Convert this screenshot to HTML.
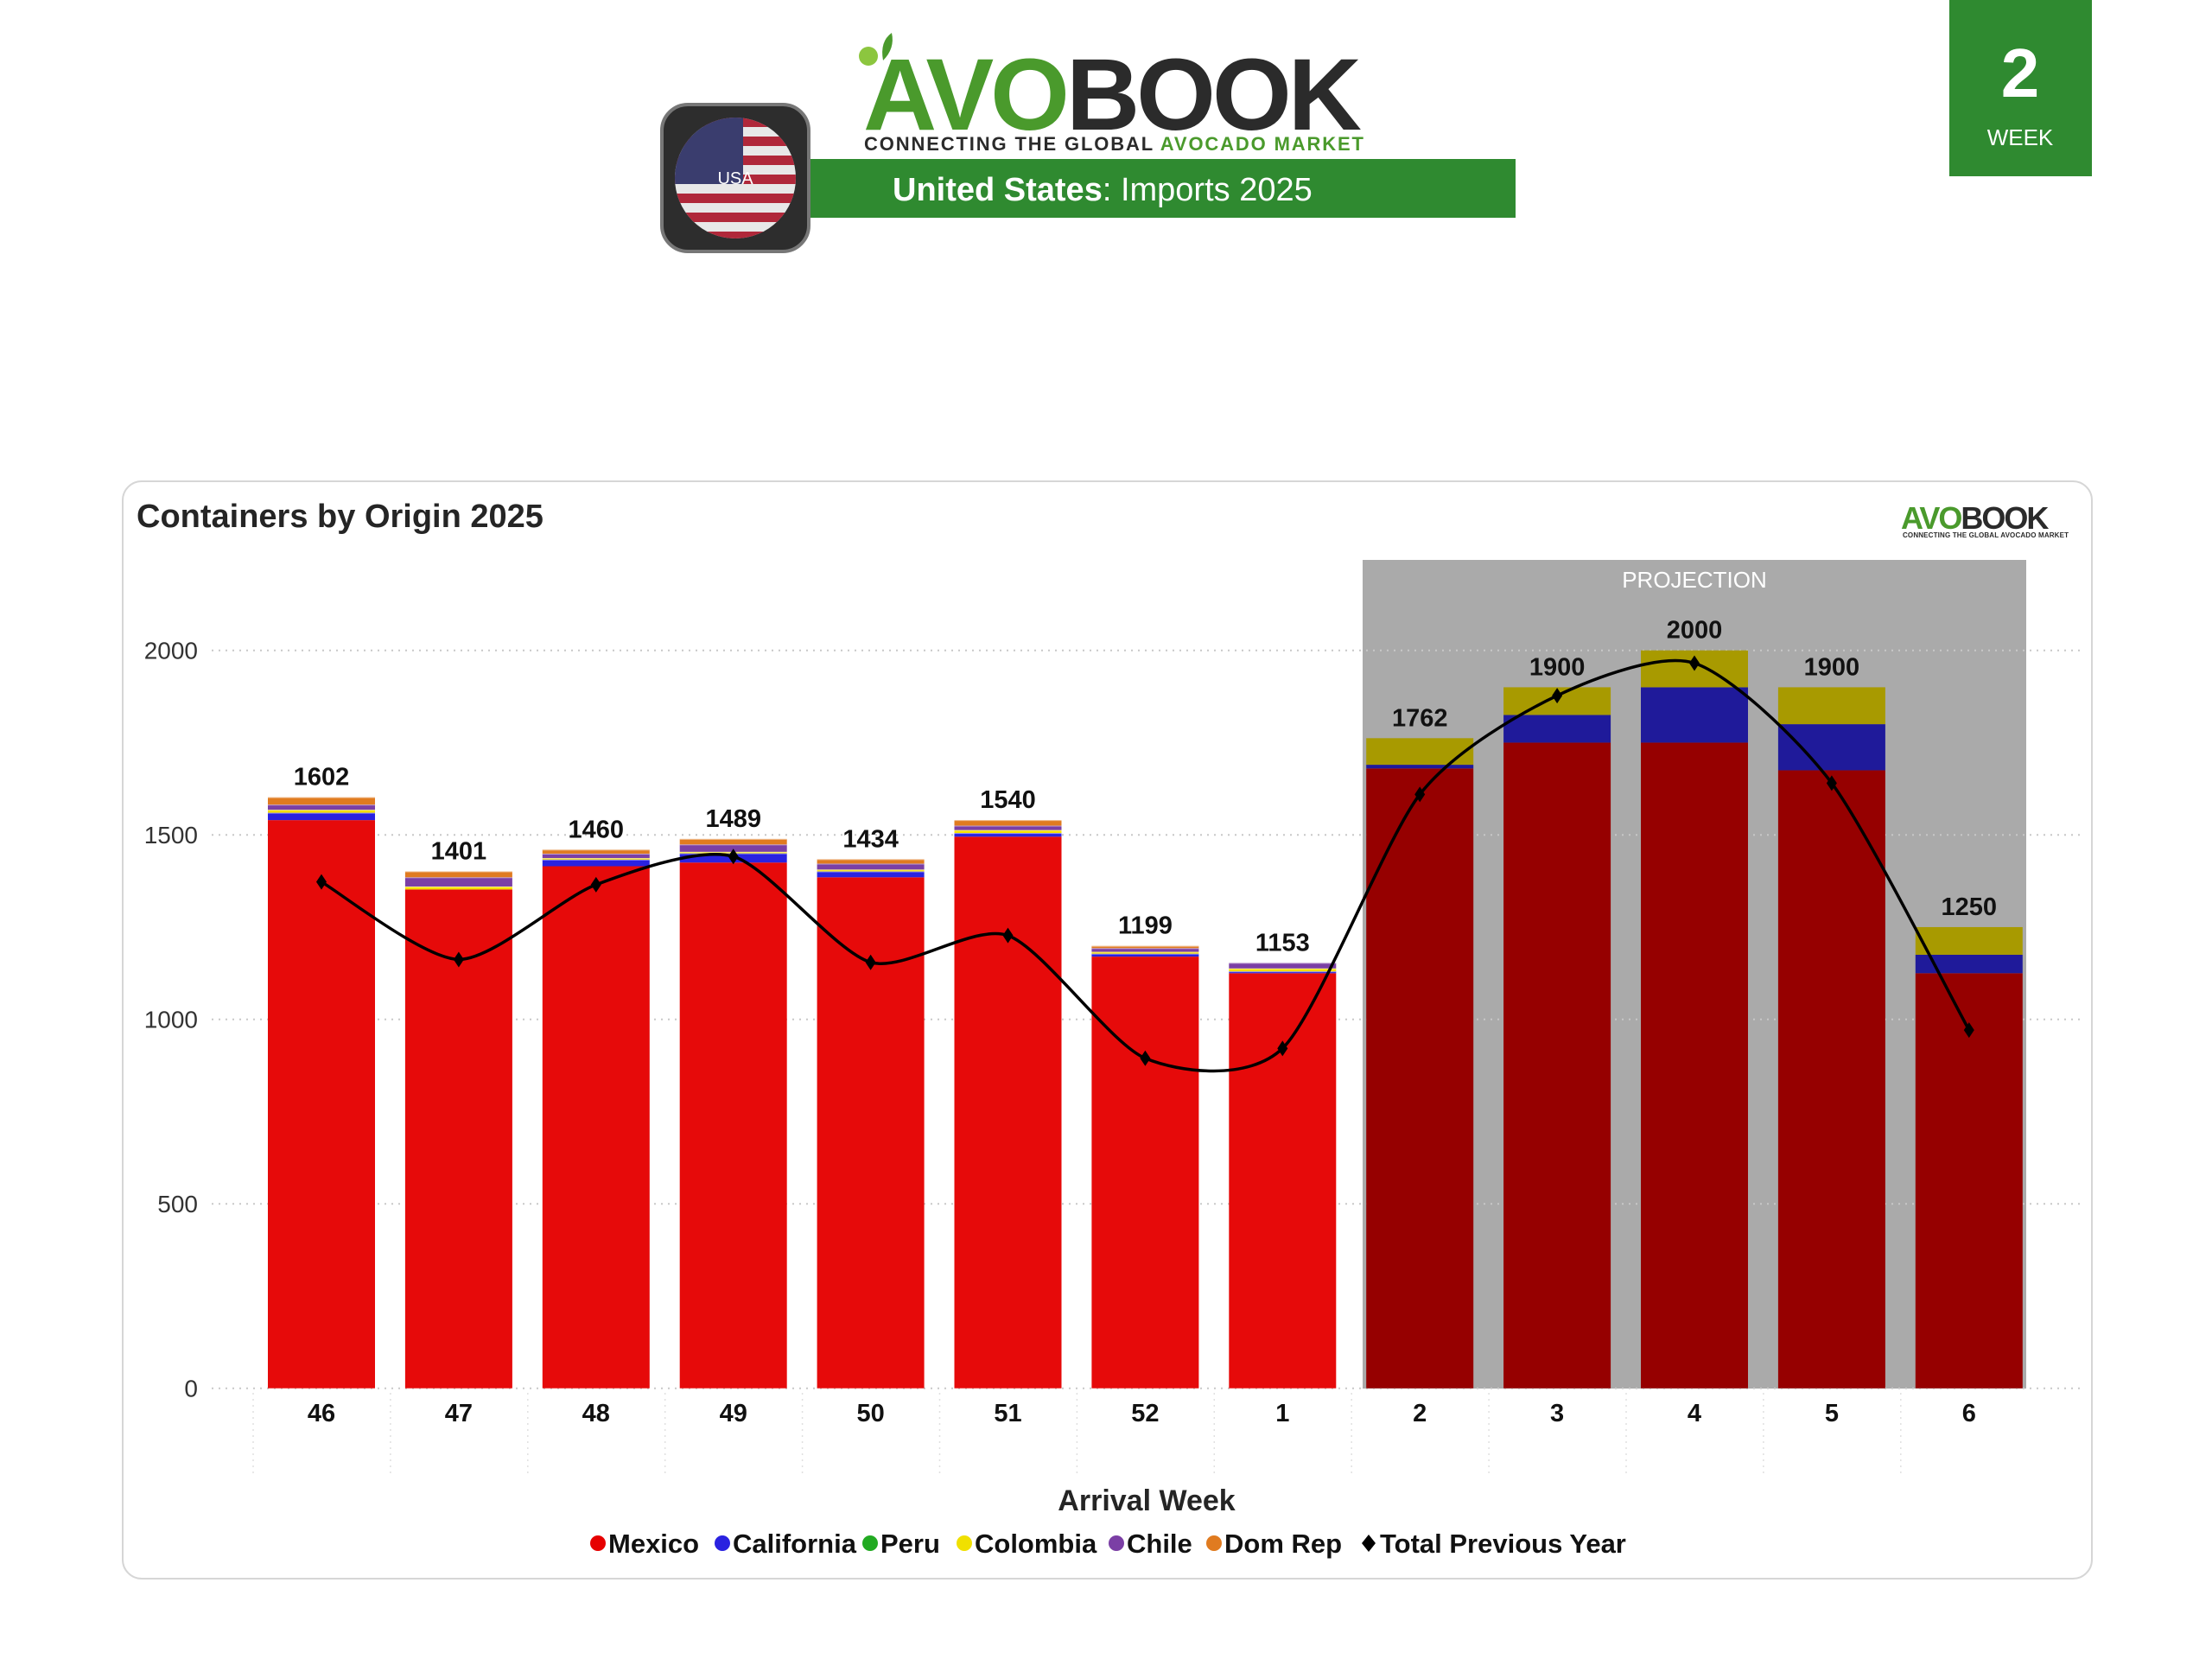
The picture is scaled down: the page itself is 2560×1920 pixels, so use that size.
<!DOCTYPE html>
<html><head><meta charset="utf-8">
<style>
html,body{margin:0;padding:0;background:#fff;}
body{width:2560px;height:1920px;position:relative;overflow:hidden;font-family:"Liberation Sans",sans-serif;}
</style></head>
<body>
<svg id="s" width="2560" height="1920" viewBox="0 0 2560 1920" xmlns="http://www.w3.org/2000/svg" style="position:absolute;left:0;top:0">
<rect x="931" y="184" width="823" height="68" fill="#2f8a30"/>
<text x="1033" y="232" font-size="38" fill="#fff" font-family="Liberation Sans, sans-serif"><tspan font-weight="bold">United States</tspan>: Imports 2025</text>
<rect x="766" y="121" width="170" height="170" rx="30" fill="#2d2d2d" stroke="#777" stroke-width="4"/>
<clipPath id="fc"><circle cx="851" cy="206" r="70"/></clipPath>
<g clip-path="url(#fc)">
<rect x="780" y="136" width="142" height="142" fill="#e8e8e8"/>
<g fill="#b0283a">
<rect x="780" y="136" width="142" height="11"/><rect x="780" y="158" width="142" height="11"/><rect x="780" y="180" width="142" height="11"/><rect x="780" y="202" width="142" height="11"/><rect x="780" y="224" width="142" height="11"/><rect x="780" y="246" width="142" height="11"/><rect x="780" y="268" width="142" height="11"/></g>
<rect x="780" y="136" width="80" height="77" fill="#3a3d6e"/>
</g>
<text x="851" y="213" font-size="20" fill="#fff" text-anchor="middle">USA</text>
<text x="999" y="150" font-size="118" font-weight="bold" fill="#4a9a2c" letter-spacing="-4">AVO<tspan fill="#2b2b2b">BOOK</tspan></text>
<circle cx="1005" cy="65" r="11" fill="#8cc63f"/><path d="M1022 70 Q1018 48 1032 38 Q1036 56 1022 70Z" fill="#4a9a2c"/>
<text x="1000" y="174" font-size="22" font-weight="bold" fill="#2b2b2b" textLength="578">CONNECTING THE GLOBAL <tspan fill="#4a9a2c">AVOCADO MARKET</tspan></text>
<rect x="2256" y="0" width="165" height="204" fill="#2f8a30"/>
<text x="2338" y="112" font-size="80" font-weight="bold" fill="#fff" text-anchor="middle">2</text>
<text x="2338" y="168" font-size="26" fill="#fff" text-anchor="middle">WEEK</text>
<rect x="142" y="557" width="2279" height="1270" rx="22" fill="#fff" stroke="#d6d6d6" stroke-width="2"/>
<text x="158" y="610" font-size="38" font-weight="bold" fill="#252525">Containers by Origin 2025</text>
<text x="2200" y="612" font-size="36" font-weight="bold" fill="#4a9a2c" letter-spacing="-2">AVO<tspan fill="#2b2b2b">BOOK</tspan></text>
<text x="2202" y="622" font-size="8" font-weight="bold" fill="#2b2b2b" textLength="192">CONNECTING THE GLOBAL AVOCADO MARKET</text>
<rect x="1577" y="648" width="768" height="959" fill="#aaaaaa"/>
<text x="1961" y="680" font-size="26" fill="#fff" text-anchor="middle">PROJECTION</text>
<g id="chart"></g>
<text x="1327" y="1748" font-size="34" font-weight="bold" fill="#252525" text-anchor="middle">Arrival Week</text>
<g font-size="31" font-weight="bold" fill="#111">
<circle cx="692" cy="1786" r="9" fill="#e60000"/><text x="704" y="1797">Mexico</text>
<circle cx="836" cy="1786" r="9" fill="#2a22e0"/><text x="848" y="1797">California</text>
<circle cx="1007" cy="1786" r="9" fill="#22aa22"/><text x="1019" y="1797">Peru</text>
<circle cx="1116" cy="1786" r="9" fill="#f0e000"/><text x="1128" y="1797">Colombia</text>
<circle cx="1292" cy="1786" r="9" fill="#7b3fa5"/><text x="1304" y="1797">Chile</text>
<circle cx="1405" cy="1786" r="9" fill="#e07b20"/><text x="1417" y="1797">Dom Rep</text>
<path d="M1584 1776 L1592 1786 L1584 1796 L1576 1786Z" fill="#000"/><text x="1597" y="1797">Total Previous Year</text>
</g>
</svg>
<script>
(function(){
var g=document.getElementById('chart'),h='';
function Y(v){return 1606.7-v*0.427;}
[0,500,1000,1500,2000].forEach(function(v){
 h+='<line x1="245" x2="2408" y1="'+Y(v)+'" y2="'+Y(v)+'" stroke="#c8c8c8" stroke-width="2" stroke-dasharray="2 6"/>';
 h+='<text x="229" y="'+(Y(v)+10)+'" font-size="28" fill="#333" text-anchor="end">'+v+'</text>';
});
var labels=['46','47','48','49','50','51','52','1','2','3','4','5','6'];
var tot=[1602,1401,1460,1489,1434,1540,1199,1153,1762,1900,2000,1900,1250];
var seg=[[1540,20,8,14,20],[1352,0,8,25,16],[1415,18,4,12,11],[1425,25,4,20,15],[1385,16,5,16,12],[1495,10,8,12,15],[1170,8,5,10,6],[1125,5,8,15,0],
[1680,10,72],[1750,75,75],[1750,150,100],[1675,125,100],[1125,50,75]];
var c1=['#e60a0a','#2a22e0','#f5e000','#7b3fa5','#e07b20'],c2=['#960000','#1f1a9a','#a89a00'];
var prev=[625,680,627,607,682,663,750,743,563,493,470,555,730];
var pts=[];
for(var i=0;i<13;i++){
 var cx=372+i*158.9,x=cx-62,acc=0,cols=i<8?c1:c2;
 seg[i].forEach(function(v,k){ if(!v)return; var y1=Y(acc+v),y0=Y(acc);
  h+='<rect x="'+x+'" y="'+y1+'" width="124" height="'+(y0-y1)+'" fill="'+cols[k]+'"/>';
  if(i<8&&k>0) h+='<rect x="'+x+'" y="'+(y1)+'" width="124" height="1" fill="#fff" opacity="0.5"/>';
  acc+=v;});
 h+='<text x="'+cx+'" y="'+(Y(tot[i])-14)+'" font-size="29" font-weight="bold" fill="#111" text-anchor="middle">'+tot[i]+'</text>';
 h+='<text x="'+cx+'" y="1645" font-size="29" font-weight="bold" fill="#111" text-anchor="middle">'+labels[i]+'</text>';
 h+='<line x1="'+(cx-79)+'" x2="'+(cx-79)+'" y1="1612" y2="1705" stroke="#e0e0e0" stroke-width="1.5" stroke-dasharray="2 5"/>';
 pts.push([cx,prev[i]*1.633]);
}
var d='M'+pts[0][0]+' '+pts[0][1];
for(var i=0;i<pts.length-1;i++){
 var p0=pts[i-1]||pts[i],p1=pts[i],p2=pts[i+1],p3=pts[i+2]||p2,t=8;
 d+=' C'+(p1[0]+(p2[0]-p0[0])/t)+' '+(p1[1]+(p2[1]-p0[1])/t)+' '+(p2[0]-(p3[0]-p1[0])/t)+' '+(p2[1]-(p3[1]-p1[1])/t)+' '+p2[0]+' '+p2[1];
}
h+='<path d="'+d+'" fill="none" stroke="#000" stroke-width="3.5"/>';
pts.forEach(function(p){h+='<path d="M'+p[0]+' '+(p[1]-9)+' L'+(p[0]+6)+' '+p[1]+' L'+p[0]+' '+(p[1]+9)+' L'+(p[0]-6)+' '+p[1]+'Z" fill="#000"/>';});
g.innerHTML=h;
})();
</script>
</body></html>
